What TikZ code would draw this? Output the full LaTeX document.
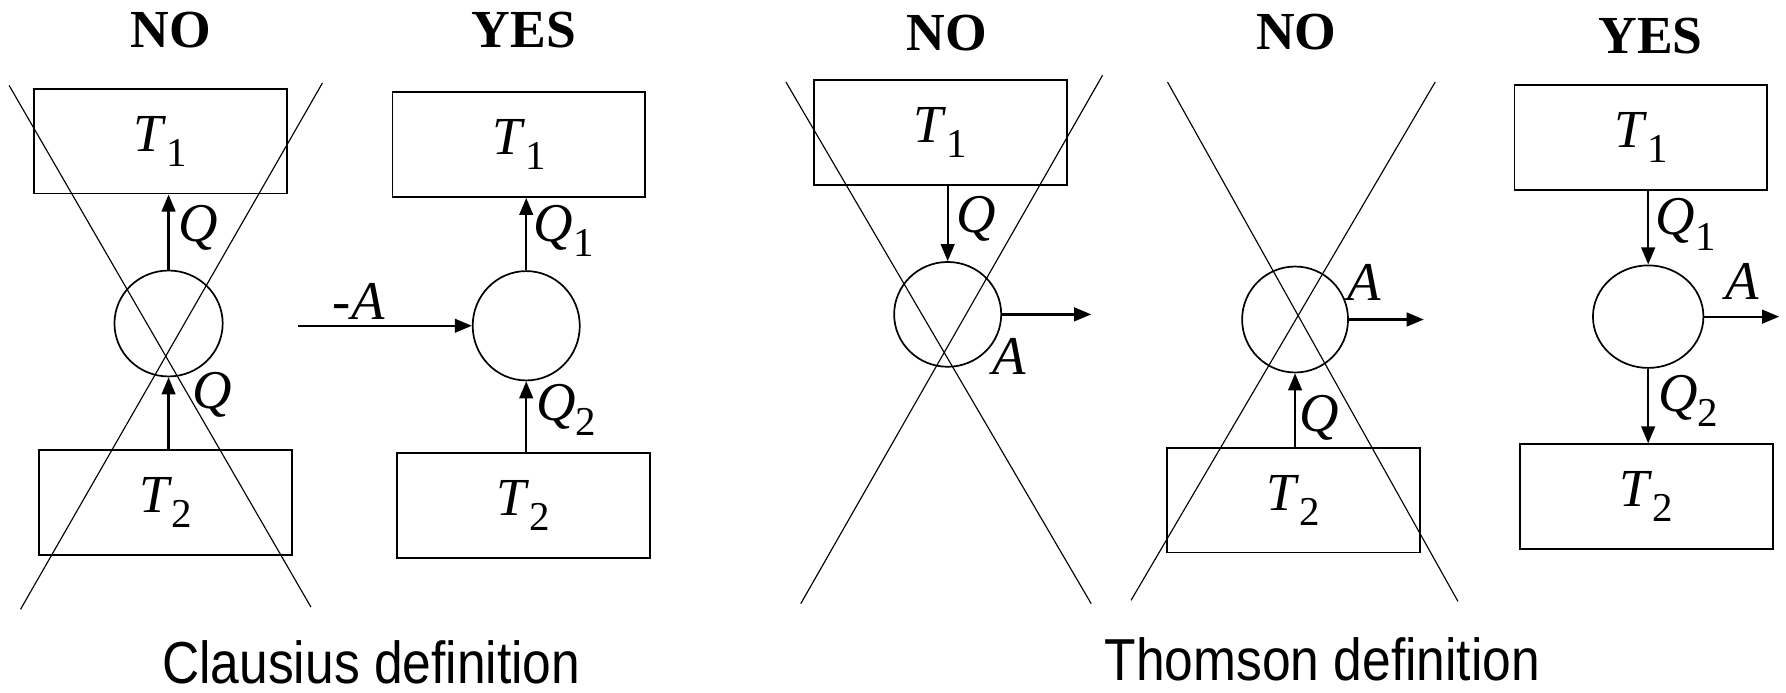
\documentclass[tikz,border=0pt]{standalone}
\usepackage{fontspec}
\setmainfont{Liberation Serif}
\setsansfont{Liberation Sans}
\usetikzlibrary{arrows.meta,shapes.geometric}
\newcommand\mysub[1]{\raisebox{-0.28em}{\fontsize{36}{38}\selectfont\upshape #1}}
\newcommand\Tv[1]{\textit{T}\mysub{#1}}
\newcommand\Qv[1]{\textit{Q}\mysub{#1}}
\newcommand\captext[1]{\scalebox{0.87}[1]{#1}}
\begin{document}
\begin{tikzpicture}[x=1pt,y=-1pt,
  box/.style={draw, line width=1.5pt, inner sep=0pt, minimum width=222pt, minimum height=92pt,
    font=\fontsize{47}{52}\selectfont},
  eng/.style={draw, ellipse, line width=1.5pt, inner sep=0pt},
  flow/.style={-{Triangle[length=15pt,width=12pt]}, line width=2pt},
  xline/.style={line width=1pt},
  hdr/.style={font=\fontsize{47}{50}\selectfont\bfseries, inner sep=0pt},
  lbl/.style={font=\fontsize{48}{52}\selectfont, inner sep=0pt},
  captxt/.style={font=\fontsize{52}{56}\selectfont\sffamily, inner sep=0pt, anchor=base}
]
\useasboundingbox (0,0) rectangle (1568,608);

% ---------------- Clausius NO
\node[hdr] (hcn) at (150,26) {NO};
\node[box] (cn1) at (141,124) {\Tv{1}};
\node[box] (cn2) at (145.5,441) {\Tv{2}};
\node[eng, minimum width=95pt, minimum height=93pt] (cnc) at (148,284) {};
\draw[flow] (cnc.north) -- (cnc.north |- cn1.south);
\draw[flow] (cnc.south |- cn2.north) -- (cnc.south);
\node[lbl] (cnq1) at (174,200) {\textit{Q}};
\node[lbl] (cnq2) at (186,347) {\textit{Q}};
\draw[xline] (8,75) -- (273,533);
\draw[xline] (283,73) -- (18,535);

% ---------------- Clausius YES
\node[hdr] (hcy) at (460,26) {YES};
\node[box] (cy1) at (455.5,127) {\Tv{1}};
\node[box] (cy2) at (459.5,444) {\Tv{2}};
\node[eng, minimum width=94pt, minimum height=96pt] (cyc) at (462,286) {};
\draw[flow] (cyc.north) -- (cyc.north |- cy1.south);
\draw[flow] (cyc.south |- cy2.north) -- (cyc.south);
\coordinate (cyin) at (262,286);
\draw[flow] (cyin) -- (cyc.west);
\node[lbl] (cyq1) at (495,203) {\Qv{1}};
\node[lbl] (cyq2) at (497,360) {\Qv{2}};
\node[lbl] (cya) at (315,265) {-\textit{A}};

\node[captxt] (capc) at (326,600) {\captext{Clausius definition}};

% ---------------- Thomson NO (1)
\node[hdr] (htn) at (831,29) {NO};
\node[box] (tn1) at (825.5,116.5) {\Tv{1}};
\node[eng, minimum width=94pt, minimum height=92pt] (tnc) at (832,276) {};
\draw[flow] (tnc.north |- tn1.south) -- (tnc.north);
\coordinate (tnout) at (958,276);
\draw[flow] (tnc.east) -- (tnout);
\node[lbl] (tnq) at (857,192) {\textit{Q}};
\node[lbl] (tna) at (886,313) {\textit{A}};
\draw[xline] (690,72) -- (958,530);
\draw[xline] (968,66) -- (703,530);

% ---------------- Thomson NO (2)
\node[hdr] (htm) at (1138,28) {NO};
\node[box] (tm2) at (1135.5,439) {\Tv{2}};
\node[eng, minimum width=93pt, minimum height=93pt] (tmc) at (1137,280.5) {};
\draw[flow] (tmc.south |- tm2.north) -- (tmc.south);
\coordinate (tmout) at (1250,280.5);
\draw[flow] (tmc.east) -- (tmout);
\node[lbl] (tmq) at (1158,367) {\textit{Q}};
\node[lbl] (tma) at (1198,248) {\textit{A}};
\draw[xline] (1025,72) -- (1280,528);
\draw[xline] (1260,72) -- (993,527);

% ---------------- Thomson YES
\node[hdr] (hty) at (1449,32) {YES};
\node[box] (ty1) at (1440.5,120.5) {\Tv{1}};
\node[box] (ty2) at (1445.5,436) {\Tv{2}};
\node[eng, minimum width=97pt, minimum height=90pt] (tyc) at (1447,278) {};
\draw[flow] (tyc.north |- ty1.south) -- (tyc.north);
\draw[flow] (tyc.south) -- (tyc.south |- ty2.north);
\coordinate (tyout) at (1562,278);
\draw[flow] (tyc.east) -- (tyout);
\node[lbl] (tyq1) at (1480,197) {\Qv{1}};
\node[lbl] (tyq2) at (1482,352) {\Qv{2}};
\node[lbl] (tya) at (1530,247) {\textit{A}};

\node[captxt] (capt) at (1161,597) {\captext{Thomson definition}};
\end{tikzpicture}
\end{document}
